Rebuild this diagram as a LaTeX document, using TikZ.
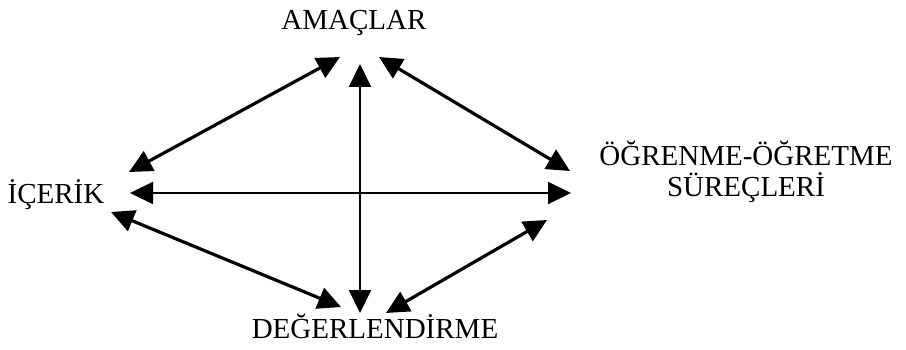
\documentclass[tikz,border=0pt]{standalone}
\usepackage{fontspec}
\setmainfont{Liberation Serif}
\usepackage{tikz}
\usetikzlibrary{arrows.meta, positioning, calc}

\begin{document}
\begin{tikzpicture}[
    x=1pt, y=-1pt,
    >={Triangle[length=23pt, width=22pt]},
    term/.style={inner sep=0pt, anchor=base, align=center,
                 font=\fontsize{29}{32}\selectfont},
    link/.style={<->, line width=3.2pt},
    axis/.style={<->, line width=2.2pt}
]
\useasboundingbox (0,0) rectangle (906,350);
\node[term] (amac) at (354,30) {AMAÇLAR};
\node[term] (icerik) at (56,204) {İÇERİK};
\node[term] (ogr) at (746,197) {ÖĞRENME-ÖĞRETME\\SÜREÇLERİ};
\node[term] (deger) at (375,338) {DEĞERLENDİRME};
\draw[link] ($(amac.base)+(-14,27)$) -- ($(icerik.base)+(73,-32)$);
\draw[link] ($(amac.base)+(25,27)$) -- ($(ogr.base)+(-176,-26)$);
\draw[axis] ($(amac.base)+(6,34)$) -- ($(deger.base)+(-15,-25)$);
\draw[axis] ($(icerik.base)+(74,-11)$) -- ($(ogr.base)+(-175,-4)$);
\draw[link] ($(icerik.base)+(55,8)$) -- ($(deger.base)+(-34,-31)$);
\draw[link] ($(ogr.base)+(-199,23)$) -- ($(deger.base)+(11,-25)$);
\end{tikzpicture}
\end{document}
